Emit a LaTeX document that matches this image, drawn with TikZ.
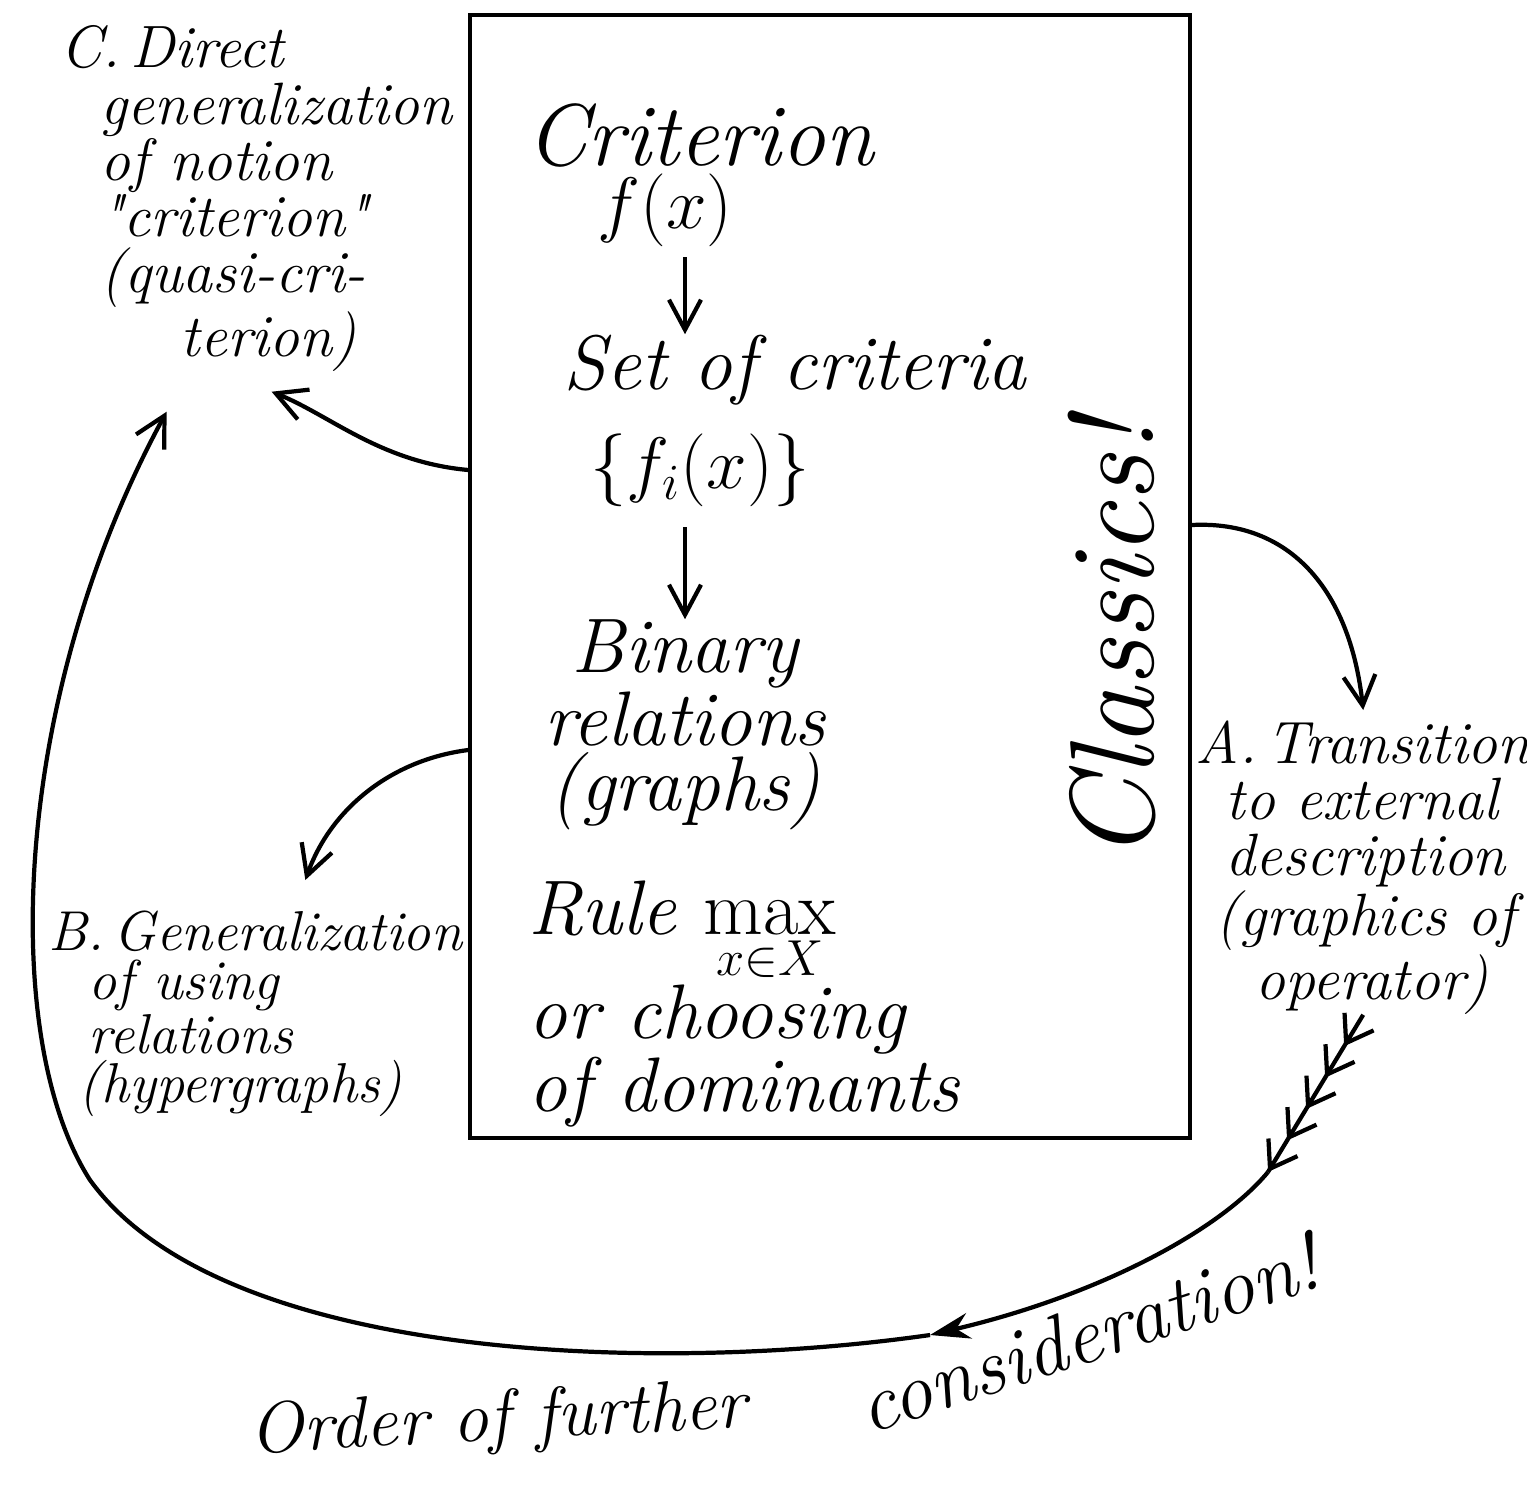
\documentclass[tikz,border=0pt]{standalone}
\usepackage{fontspec}
\usetikzlibrary{arrows.meta, positioning, decorations.markings}

\begin{document}
\begin{tikzpicture}[
    frame/.style={draw, line width=1pt, minimum width=7.2cm, minimum height=11.23cm, inner sep=0pt},
    big/.style={font=\fontsize{22}{18.5}\selectfont\itshape, inner sep=0pt},
    note/.style={font=\fontsize{17}{16}\selectfont\itshape, align=left, inner sep=0pt},
    tail/.style={font=\fontsize{20.5}{21}\selectfont\itshape, inner sep=0pt},
    link/.style={line width=1.2pt},
    chevrons/.style={decoration={markings,
        mark=between positions 0.2 and 1 step 0.2 with {\arrow{Straight Barb[length=2.5mm, width=3.4mm]}}},
        postaction={decorate}},
    >={Straight Barb[length=3mm, width=3.2mm]}
]
\useasboundingbox (0,0) rectangle (15.27,-14.86);

\node[frame] (box) at (8.30,-5.765) {};
\node[big, font=\fontsize{25}{25}\selectfont\itshape] (crit) at (7.00,-1.35) {Criterion};
\node[big] (fx) at (6.65,-2.10) {$f(x)$};
\node[big] (setc) at (7.95,-3.70) {Set of criteria};
\node[big] (fix) at (7.00,-4.70) {$\{f_i(x)\}$};
\node[big, align=center] (bin) at (6.85,-7.25) {Binary\\relations\\(graphs)};
\node[big, align=left, anchor=north west] (rule) at (5.28,-8.80) {Rule $\max\limits_{x\in X}$\\or choosing\\of dominants};
\node[big, font=\fontsize{34}{34}\selectfont\itshape, rotate=90] (cls) at (11.12,-6.40) {Classics!};

\node[note, anchor=north west] (cnote) at (0.60,-0.25) {C.\,Direct\\\hspace*{4mm}generalization\\\hspace*{4mm}of notion\\\hspace*{4mm}\textquotedbl criterion\textquotedbl\\\hspace*{4mm}(quasi-cri-\\\hspace*{12mm}terion)};
\node[note, font=\fontsize{16}{14}\selectfont\itshape, anchor=north west] (bnote) at (0.48,-9.10) {B.\,Generalization\\\hspace*{4mm}of using\\\hspace*{4mm}relations\\\hspace*{3mm}(hypergraphs)};
\node[note, anchor=north west] (anote) at (11.95,-7.20) {A.\,Transition\\\hspace*{3mm}to external\\\hspace*{3mm}description\\\hspace*{2mm}(graphics of\\\hspace*{6mm}operator)};

\node[tail, rotate=3] (order) at (4.98,-14.22) {Order of further};
\node[tail, font=\fontsize{23}{23}\selectfont\itshape, rotate=18, anchor=south west] (consid) at (8.68,-14.36) {consideration!};

% inside the frame
\draw[link,->] ([xshift=2mm,yshift=-1mm]fx.south) -- ([xshift=2mm]fx.south |- setc.north);
\draw[link,->] ([xshift=-1.5mm,yshift=-2mm]fix.south) -- ([xshift=-1.5mm]fix.south |- bin.north);

% side branches
\draw[link,->] (box.west |- fix) .. controls (3.8,-4.62) and (3.3,-4.15) .. ([xshift=0.15cm,yshift=-0.2cm]cnote.south);
\draw[link,->] ([yshift=-0.25cm]box.west |- bin) .. controls (3.9,-7.6) and (3.3,-8.1) .. ([xshift=0.5cm,yshift=0.3cm]bnote.north);
\draw[link,->] ([yshift=-0.55cm]box.east |- fix) .. controls (12.9,-5.2) and (13.5,-5.9) .. ([yshift=0.1cm]anote.north);

% order of consideration
\coordinate (k1) at (12.68,-11.72);
\coordinate (k2) at (9.30,-13.35);
\draw[link, chevrons] (anote.south) -- (k1);
\draw[link, -{Stealth[length=4mm, width=2.6mm]}] (k1) .. controls (12.2,-12.3) and (11.0,-12.95) .. (k2);
\draw[link,->] (k2) .. controls (6.5,-13.75) and (2.2,-13.6) .. (0.9,-11.8)
    .. controls (0.0,-10.4) and (0.1,-7.0) .. ([xshift=-0.9cm,yshift=-0.4cm]cnote.south);
\end{tikzpicture}
\end{document}
